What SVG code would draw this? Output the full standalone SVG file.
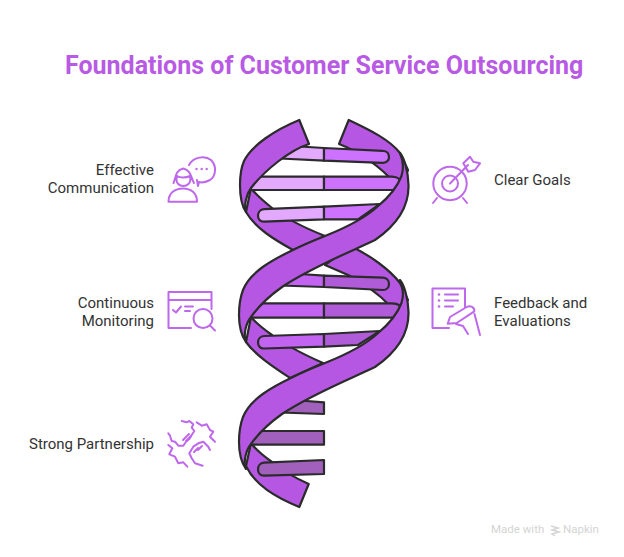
<svg xmlns="http://www.w3.org/2000/svg" width="624" height="557" viewBox="0 0 624 557">
<style>
text{font-family:Roboto,"Liberation Sans",sans-serif}
.t{font-size:25px;font-weight:700;fill:#B85AE4}
.l{font-size:15px;fill:#333}
.e{text-anchor:end}
.h path{stroke:#2b2b2b;stroke-width:2.2;stroke-linejoin:round}
.r{fill:#B657E3}
.i{fill:none;stroke:#BE68EC;stroke-width:2;stroke-linecap:round;stroke-linejoin:round}
.d{fill:#BE68EC}
.a{fill:#E2A9FF}.b{fill:#CC72FF}.c{fill:#C263F2}.f{fill:#B05BD8}.g{fill:#A060BC}
.m{font-size:11.5px;fill:#d4d4d4}
</style>
<rect width="624" height="557" fill="#fff"/>
<text class="t" x="65" y="74">Foundations of Customer Service Outsourcing</text>
<g id="helix" class="h">
<path class="r" d="M348.700 120L339 144C355 150 375 163 388 176L400 190L408 170L400 153C390 140 370 130 348.700 120Z"/>
<path class="r" d="M251 188L246 212C255 228 275 240 293 250L325 236C305 228 285 218 272 208C262 200 256 195 251 188Z"/>
<path class="r" d="M350 246C370 255 390 270 400 283L408 300L395 315L387 303C375 290 360 282 348 275L325 265Z"/>
<path class="r" d="M251 317L246 342C255 355 275 368 290 378L323 363C305 355 285 345 272 335C262 328 256 323 251 317Z"/>
<path class="r" d="M251 443L246 466C255 485 275 497 299.300 507L308.700 484C295 478 282 470 272 462C262 455 256 450 251 443Z"/>
<path class="a" d="M300 146.500L324 148V160.700L280 158.500Z"/>
<path class="b" d="M324 148L383 150.800C391 151 391 163 383 162.800L324 160.700Z"/>
<path class="a" d="M260 176.700H324V190H248Z"/>
<path class="b" d="M324 176.700H392C398 177 401 179 402 185L398 190H324Z"/>
<path class="a" d="M264 209.200L324 206.700V219.300L264 221.700C256 222 256 209.600 264 209.200Z"/>
<path class="b" d="M324 206.700L380 204L358 219.300H324Z"/>
<path class="c" d="M300 274L324 275.700V287L280 285.500Z"/>
<path class="f" d="M324 275.700L383 277.700C391 278 391 290 383 290L324 287Z"/>
<path class="c" d="M260 303.300H324V317.700H248Z"/>
<path class="f" d="M324 303.300H392C398 303.600 401 305 402 311L398 317.700H324Z"/>
<path class="c" d="M264 336L324 334V346.700L264 348.500C256 348.700 256 336.500 264 336Z"/>
<path class="f" d="M324 334L380 331L358 345L324 346.700Z"/>
<path class="g" d="M300 400.500L324 402.300V414L280 412.500Z"/>
<path class="g" d="M260 431H324V444.700H248Z"/>
<path class="g" d="M264 462.700L324 460V474L264 475.700C256 476 256 463 264 462.700Z"/>
<path class="r" d="M299.300 120L309 144C290 150 265 170 251 188C246 195 244 205 246 212C241 205 240 195 240 185C240 175 241 168 244 161C252 145 275 130 299.300 120Z"/>
<path class="r" d="M400 153C404 158 408 170 408.500 185C409 205 398 224 375 240C350 252 310 268 282 287C268 297 258 307 251 317C246 323 243 335 246 342C241 335 239 325 239 315C239 305 240 298 243 290C250 272 272 260 293 250C305 244 325 236 325 236C345 228 365 218 377 207C388 198 397 188 401.500 176C404 168 403 160 400 153Z"/>
<path class="r" d="M400 280C404 285 408 297 408.500 312C409 332 398 351 375 367C350 379 310 395 282 414C268 424 258 434 251 444C246 450 243 462 246 469C241 462 239 452 239 442C239 432 240 425 243 417C250 399 272 387 293 377C305 371 325 363 325 363C345 355 365 345 377 334C388 325 397 315 401.500 303C404 295 403 287 400 280Z"/>
</g>
<g id="effective-communication">
<path class="i" d="M168.500 201.700C168.500 193 175 188.500 183 188.500C191 188.500 197 193 197 201.700ZM173.500 183C176 178 175 170 183.300 168.500C191 170 191 178 194 183M177 176C180 178 186 178 190 176C192 184 186 186 183.500 186C180 186 175 184 177 176Z"/>
<path class="i" d="M189 165C193 157 205 155 211 160C217 166 216 176 210 180C206 182 202 183 199 182L198 186L197 180"/>
<circle class="d" cx="196.500" cy="169" r="1.200"/><circle class="d" cx="201.700" cy="169" r="1.200"/><circle class="d" cx="206.700" cy="169" r="1.200"/>
<text class="l e" x="154" y="175">Effective</text>
<text class="l e" x="154" y="193">Communication</text>
</g>
<g id="clear-goals">
<circle class="i" cx="450" cy="183.500" r="16.700"/><circle class="i" cx="450" cy="183.500" r="8"/>
<path class="i" d="M450 183.500L468 165M437 198L433 203M463 198L467 203M468.300 171.700L463.300 163.300L470 156.700L473.300 161.700L480 163.300L475 170Z"/>
<text class="l" x="494" y="185">Clear Goals</text>
</g>
<g id="continuous-monitoring">
<path class="i" d="M191 328H168.500V292H211.500V309M168.500 300H211.500"/>
<circle class="i" cx="203" cy="318.500" r="9.500"/>
<path class="i" d="M210 325.500L215 330.500M173 310L176 312.500L181 306.500M185 306.500H193M185 311H190"/>
<text class="l e" x="154" y="308">Continuous</text>
<text class="l e" x="154" y="326">Monitoring</text>
</g>
<g id="feedback-evaluations">
<path class="i" d="M449 328H432.500V288.500H465V307"/>
<path class="i" d="M445 294.500H458M445 300.500H458M445 306.500H453M447.700 323.700L450 317L466.700 307C470 305 475 307 474.300 311.300L456.700 323ZM456 324L463 326L468 334M474.500 314L480 335"/>
<circle class="d" cx="439" cy="294.500" r="1.300"/><circle class="d" cx="439" cy="300.500" r="1.300"/><circle class="d" cx="439" cy="306.500" r="1.300"/>
<text class="l" x="494" y="308">Feedback and</text>
<text class="l" x="494" y="326">Evaluations</text>
</g>
<g id="strong-partnership">
<path class="i" d="M181.700 421L186.700 422.300L189.300 421L193.300 424.300L191.700 427.700L194.300 431L191.700 435L189.300 439L186 441.700L183.300 445.700L178.300 445.700L175 441.700L171.700 441L170 435.700L168.300 433.300"/>
<path class="i" d="M196.700 422.300L201.700 425.700L206.700 424.300L210 430L213.300 431.700L210 436.700L215 441.700"/>
<path class="i" d="M168.300 445L172.300 448.300L169.300 454.300L175 456.700L178.300 463.300L183.300 462.300L187.300 466.700"/>
<path class="i" d="M202.700 465.700L195 463.300L191.700 458.300L189.300 453.300L193.300 446.700L198.300 443.300L203.300 441.700L208.300 446.700L210 450M183 440L189 434M186 441L191 436M194 452L198 448M198 450L202 446"/>
<text class="l e" x="154" y="449">Strong Partnership</text>
</g>
<g id="watermark">
<text class="m" x="491" y="533">Made with</text>
<path d="M551 526L558 528L552 530L559 532L552 534L555 536" fill="none" stroke="#d4d4d4" stroke-width="1.500"/>
<text class="m" x="563" y="533">Napkin</text>
</g>
</svg>
